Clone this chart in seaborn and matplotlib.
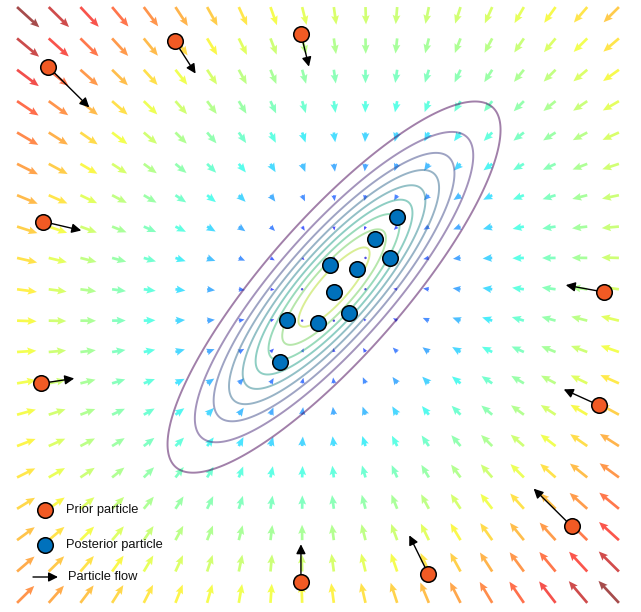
import numpy as np
import matplotlib
matplotlib.use("Agg")
import matplotlib.pyplot as plt
from matplotlib.colors import Normalize
import seaborn as sns

# ---------------- data ----------------
# quiver grid (20 x 20)
grid_x = np.linspace(-3, 3, 20)
grid_y = np.linspace(-3, 3, 20)

# linear flow field  v = -K (p - c),  K = [[1, -shear], [-shear, 1]]
flow_center = (0.17, 0.16)
flow_shear = 0.136
flow_scale = 16.0

# posterior Gaussian (contours)
post_mean = (0.16, 0.18)
post_sd_major = 1.12
post_sd_minor = 0.32
post_angle_deg = 49.0
contour_levels = [0.1, 0.2, 0.3, 0.4, 0.5, 0.6, 0.7, 0.8, 0.9]

# prior particles and where their flow arrows end
prior_x = [-2.69, -1.43, -0.17, -2.74, -2.76, -0.17, 2.85, 2.80, 2.53, 1.10]
prior_y = [2.40, 2.66, 2.73, 0.84, -0.79, -2.79, 0.13, -1.01, -2.23, -2.71]
flow_end_x = [-2.28, -1.22, -0.09, -2.36, -2.43, -0.17, 2.47, 2.45, 2.15, 0.91]
flow_end_y = [1.99, 2.33, 2.40, 0.75, -0.74, -2.41, 0.20, -0.85, -1.85, -2.32]

# posterior particles
post_x = [0.79, 0.57, 0.72, 0.12, 0.39, 0.16, 0.31, -0.31, 0.00, -0.38]
post_y = [0.89, 0.66, 0.47, 0.40, 0.36, 0.13, -0.08, -0.15, -0.18, -0.57]

legend_labels = ["Prior particle", "Posterior particle", "Particle flow"]

prior_color = "#f15a24"
post_color = "#0071bc"

# ---------------- figure ----------------
sns.set_style("white")
plt.rcParams["font.family"] = ["Liberation Sans", "DejaVu Sans"]

fig = plt.figure(figsize=(6.41, 6.12), dpi=100)
ax = fig.add_axes([0, 0, 1, 1])
ax.set_xlim(-3.170, 3.220)
ax.set_ylim(-3.092, 3.071)
ax.axis("off")

# vector field
X, Y = np.meshgrid(grid_x, grid_y)
rx = X - flow_center[0]
ry = Y - flow_center[1]
U = -(rx - flow_shear * ry)
V = -(-flow_shear * rx + ry)
Mag = np.hypot(U, V)
ax.quiver(X, Y, U, V, Mag, cmap=plt.get_cmap("jet"), norm=Normalize(0, Mag.max()),
          angles="xy", scale_units="xy", scale=flow_scale, pivot="tail",
          width=0.0042, headwidth=2.9, headlength=3.4, headaxislength=3.0,
          alpha=0.7, zorder=1)

# posterior density contours
xs = np.linspace(-3.3, 3.3, 500)
ys = np.linspace(-3.3, 3.3, 500)
XX, YY = np.meshgrid(xs, ys)
th = np.deg2rad(post_angle_deg)
R = np.array([[np.cos(th), -np.sin(th)], [np.sin(th), np.cos(th)]])
Sigma = R @ np.diag([post_sd_major ** 2, post_sd_minor ** 2]) @ R.T
Si = np.linalg.inv(Sigma)
dx = XX - post_mean[0]
dy = YY - post_mean[1]
d2 = Si[0, 0] * dx * dx + 2 * Si[0, 1] * dx * dy + Si[1, 1] * dy * dy
Z = np.exp(-0.5 * d2)
ax.contour(XX, YY, Z, levels=contour_levels,
           cmap=sns.color_palette("viridis", as_cmap=True),
           norm=Normalize(0.1, 1.0), linewidths=1.4, alpha=0.5, zorder=2)

# particle flow arrows
for x0, y0, x1, y1 in zip(prior_x, prior_y, flow_end_x, flow_end_y):
    ax.annotate("", xy=(x1, y1), xytext=(x0, y0),
                arrowprops=dict(arrowstyle="-|>", color="black", lw=1.0,
                                mutation_scale=14, shrinkA=0, shrinkB=0),
                zorder=4)

# particles
sns.scatterplot(x=prior_x, y=prior_y, ax=ax, s=125, color=prior_color,
                edgecolor="black", linewidth=1.1, zorder=5, legend=False)
sns.scatterplot(x=post_x, y=post_y, ax=ax, s=125, color=post_color,
                edgecolor="black", linewidth=1.1, zorder=5, legend=False)

# legend (drawn in axes fraction coordinates)
W, H = 641.0, 612.0
def fx(px):
    return px / W
def fy(py):
    return 1 - py / H

ax.scatter([fx(45)], [fy(510)], s=125, color=prior_color, edgecolor="black",
           linewidth=1.1, transform=ax.transAxes, zorder=6, clip_on=False)
ax.scatter([fx(45)], [fy(545)], s=125, color=post_color, edgecolor="black",
           linewidth=1.1, transform=ax.transAxes, zorder=6, clip_on=False)
ax.annotate("", xy=(fx(58), fy(577)), xytext=(fx(33), fy(577)),
            xycoords="axes fraction", textcoords="axes fraction",
            arrowprops=dict(arrowstyle="-|>", color="black", lw=1.0,
                            mutation_scale=14, shrinkA=0, shrinkB=0), zorder=6)
for lab, px, py in zip(legend_labels, [66, 66, 68], [510, 545, 577]):
    ax.text(fx(px), fy(py), lab, transform=ax.transAxes, fontsize=9.3,
            ha="left", va="center", color="#111111", zorder=6)

fig.savefig("out.png", dpi=100)
